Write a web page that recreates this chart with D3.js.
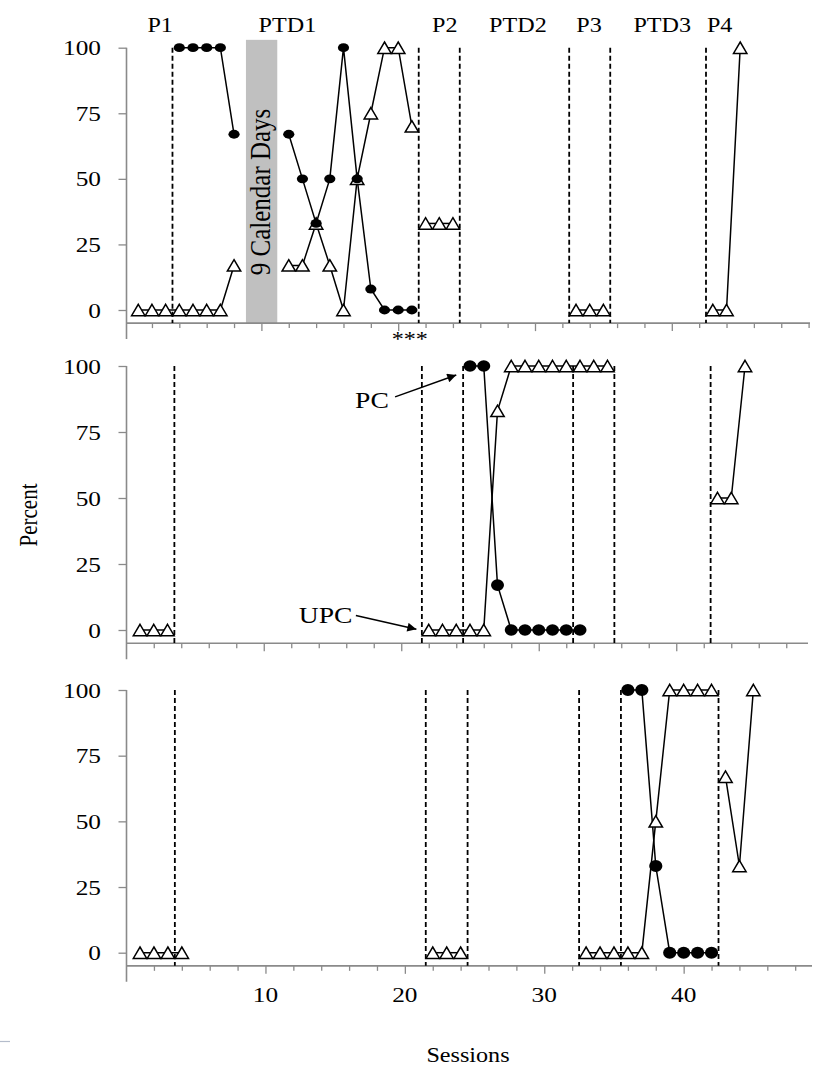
<!DOCTYPE html>
<html><head><meta charset="utf-8">
<script src="https://cdn.jsdelivr.net/npm/d3@7"></script>
<style>
body{margin:0;background:#fff}
svg{display:block}
text{font-family:"Liberation Serif","Times New Roman",serif;fill:#000}
</style>
</head><body>
<svg id="c" width="813" height="1069"></svg>
<script>
// ---------------- DATA ----------------
const yTicks = [0, 25, 50, 75, 100];
const xTickLabels = [10, 20, 30, 40];
const phaseNames = ["P1", "PTD1", "P2", "PTD2", "P3", "PTD3", "P4"];
const phaseLabelSessions = [2.6, 11.9, 23.4, 28.75, 33.95, 39.3, 43.5];
const phaseLines = [3.5, 21.5, 24.5, 32.5, 35.5, 42.5];
const gapSessions = [8.87, 11.16];           // "9 Calendar Days" break
const gapLabel = "9  Calendar Days";

// Panel 1 (top)
const p1PC = [
  {start: 4, values: [100, 100, 100, 100, 67]},
  {start: 12, values: [67, 50, 33, 50, 100, 50, 8, 0, 0, 0]}
];
const p1UPC = [
  {start: 1, values: [0, 0, 0, 0, 0, 0, 0, 17]},
  {start: 12, values: [17, 17, 33, 17, 0, 50, 75, 100, 100, 70]},
  {start: 22, values: [33, 33, 33]},
  {start: 33, values: [0, 0, 0]},
  {start: 43, values: [0, 0, 100]}
];
// Panel 2 (middle)
const p2PC = [
  {start: 25, values: [100, 100, 17, 0, 0, 0, 0, 0, 0]}
];
const p2UPC = [
  {start: 1, values: [0, 0, 0]},
  {start: 22, values: [0, 0, 0, 0, 0, 83, 100, 100, 100, 100, 100, 100, 100, 100]},
  {start: 43, values: [50, 50, 100]}
];
// Panel 3 (bottom)
const p3PC = [
  {start: 36, values: [100, 100, 33, 0, 0, 0, 0]}
];
const p3UPC = [
  {start: 1, values: [0, 0, 0, 0]},
  {start: 22, values: [0, 0, 0]},
  {start: 33, values: [0, 0, 0, 0, 0, 50, 100, 100, 100, 100]},
  {start: 43, values: [67, 33, 100]}
];
// Annotations (session, percent) in middle panel
const pcArrow = [[19.55, 88.3], [24.0, 96.6]];
const upcArrow = [[16.7, 5.5], [21.1, 0.3]];
const pcLabelPos = [19.1, 87];
const upcLabelPos = [16.45, 5.8];
const asteriskPos = [20.85, -10];

// ---------------- LAYOUT ----------------
const SX = 1.15; // horizontal stretch of the original picture
const axisX = 126.5;
const panels = [
  {pc: p1PC, upc: p1UPC, x0: 124.6, k: 13.68, yTop: 47.7, y0: 310, xEnd: 810, rx: 5.6, ry: 4.4},
  {pc: p2PC, upc: p2UPC, x0: 126.25, k: 13.75, yTop: 366, y0: 630, xEnd: 808, rx: 6.5, ry: 5.8},
  {pc: p3PC, upc: p3UPC, x0: 126.06, k: 13.94, yTop: 690, y0: 952.7, xEnd: 812, rx: 6.6, ry: 6}
];

const svg = d3.select("#c");
const axisColor = "#8a8a8a";

function stretchedText(g, x, y, str, size, anchor, extra) {
  const t = g.append("text")
    .attr("transform", `translate(${x},${y}) scale(${SX},1)` + (extra || ""))
    .attr("font-size", size)
    .attr("text-anchor", anchor || "middle")
    .text(str);
  return t;
}

svg.append("defs").append("marker")
  .attr("id", "ah").attr("viewBox", "0 0 10 10")
  .attr("refX", 10).attr("refY", 5)
  .attr("markerWidth", 13).attr("markerHeight", 9)
  .attr("markerUnits", "userSpaceOnUse")
  .attr("orient", "auto")
  .append("path").attr("d", "M0,0 L10,5 L0,10 Z").attr("fill", "#000");

const triPath = "M0,-5.7 L6.7,5.7 L-6.7,5.7 Z";

panels.forEach((p, pi) => {
  const x = d3.scaleLinear().domain([0, 50]).range([p.x0, p.x0 + 50 * p.k]);
  const y = d3.scaleLinear().domain([0, 100]).range([p.y0, p.yTop]);
  const g = svg.append("g");
  const yAxisBottom = y(-5);

  // gray gap bar (top panel only)
  if (pi === 0) {
    g.append("rect")
      .attr("x", x(gapSessions[0])).attr("width", x(gapSessions[1]) - x(gapSessions[0]))
      .attr("y", y(103)).attr("height", yAxisBottom - y(103))
      .attr("fill", "#c0c0c0");
    const cx = (x(gapSessions[0]) + x(gapSessions[1])) / 2 + 8;
    g.append("text")
      .attr("transform", `translate(${cx},${y(45)}) scale(${SX},1) rotate(-90)`)
      .attr("font-size", 25).attr("text-anchor", "middle")
      .attr("fill", "#333")
      .text(gapLabel);
  }

  // axes
  const evens = d3.range(2, 51, 2).filter(t => x(t) <= p.xEnd + 0.5);
  const xAxis = d3.axisBottom(x).tickValues(evens).tickSize(5).tickFormat("");
  const xg = g.append("g").attr("transform", `translate(0,${yAxisBottom})`).call(xAxis);
  xg.select(".domain").remove();
  xg.selectAll(".tick line").attr("stroke", axisColor).attr("stroke-width", 1.3)
    .attr("y2", d => xTickLabels.includes(d) ? 8 : 5);
  g.append("line").attr("x1", axisX).attr("x2", p.xEnd)
    .attr("y1", yAxisBottom).attr("y2", yAxisBottom)
    .attr("stroke", axisColor).attr("stroke-width", 1.6);

  const yAxis = d3.axisLeft(y).tickValues(yTicks).tickSize(8).tickFormat("");
  const yg = g.append("g").attr("transform", `translate(${axisX},0)`).call(yAxis);
  yg.select(".domain").remove();
  yg.selectAll(".tick line").attr("stroke", axisColor).attr("stroke-width", 1.3);
  g.append("line").attr("x1", axisX).attr("x2", axisX)
    .attr("y1", y(100)).attr("y2", yAxisBottom + 16)
    .attr("stroke", axisColor).attr("stroke-width", 1.6);
  yTicks.forEach(v => stretchedText(g, 101, y(v) + 7.5, String(v), 22, "end"));

  if (pi === 2) {
    xTickLabels.forEach(v => stretchedText(g, x(v), 1002, String(v), 22, "middle"));
  }

  // phase change lines
  phaseLines.forEach(s => {
    g.append("line").attr("x1", x(s)).attr("x2", x(s))
      .attr("y1", y(100)).attr("y2", yAxisBottom)
      .attr("stroke", "#000").attr("stroke-width", 1.8)
      .attr("stroke-dasharray", "5,3");
  });

  // series lines
  const line = d3.line().x(d => x(d[0])).y(d => y(d[1]));
  const toPts = seg => seg.values.map((v, i) => [seg.start + i, v]);
  [...p.upc, ...p.pc].forEach(seg => {
    g.append("path").attr("d", line(toPts(seg)))
      .attr("fill", "none").attr("stroke", "#000").attr("stroke-width", 1.5);
  });
  // UPC triangles
  p.upc.forEach(seg => {
    toPts(seg).forEach(d => {
      g.append("path").attr("d", triPath)
        .attr("transform", `translate(${x(d[0])},${y(d[1])})`)
        .attr("fill", "#fff").attr("stroke", "#000").attr("stroke-width", 1.5);
    });
  });
  // PC circles
  p.pc.forEach(seg => {
    toPts(seg).forEach(d => {
      g.append("ellipse").attr("cx", x(d[0])).attr("cy", y(d[1]))
        .attr("rx", p.rx).attr("ry", p.ry).attr("fill", "#000");
    });
  });

  if (pi === 0) {
    phaseNames.forEach((n, i) => stretchedText(g, x(phaseLabelSessions[i]), 32, n, 21, "middle"));
    stretchedText(g, x(asteriskPos[0]), y(asteriskPos[1]) + 10, "***", 21, "middle");
  }
  if (pi === 1) {
    g.append("line")
      .attr("x1", x(pcArrow[0][0])).attr("y1", y(pcArrow[0][1]))
      .attr("x2", x(pcArrow[1][0])).attr("y2", y(pcArrow[1][1]))
      .attr("stroke", "#000").attr("stroke-width", 1.5).attr("marker-end", "url(#ah)");
    g.append("line")
      .attr("x1", x(upcArrow[0][0])).attr("y1", y(upcArrow[0][1]))
      .attr("x2", x(upcArrow[1][0])).attr("y2", y(upcArrow[1][1]))
      .attr("stroke", "#000").attr("stroke-width", 1.5).attr("marker-end", "url(#ah)");
    stretchedText(g, x(pcLabelPos[0]), y(pcLabelPos[1]) + 8, "PC", 24, "end");
    stretchedText(g, x(upcLabelPos[0]), y(upcLabelPos[1]) + 8, "UPC", 24, "end");
  }
});

// axis titles
svg.append("text")
  .attr("transform", `translate(37,515) scale(${SX},1) rotate(-90)`)
  .attr("font-size", 21).attr("text-anchor", "middle").text("Percent");
stretchedText(svg, 468, 1062, "Sessions", 21, "middle");
// small stray mark at the lower left
svg.append("line").attr("x1", 0).attr("x2", 10).attr("y1", 1041.5).attr("y2", 1041.5)
  .attr("stroke", "#b4bccb").attr("stroke-width", 1.2);
</script>
</body></html>
